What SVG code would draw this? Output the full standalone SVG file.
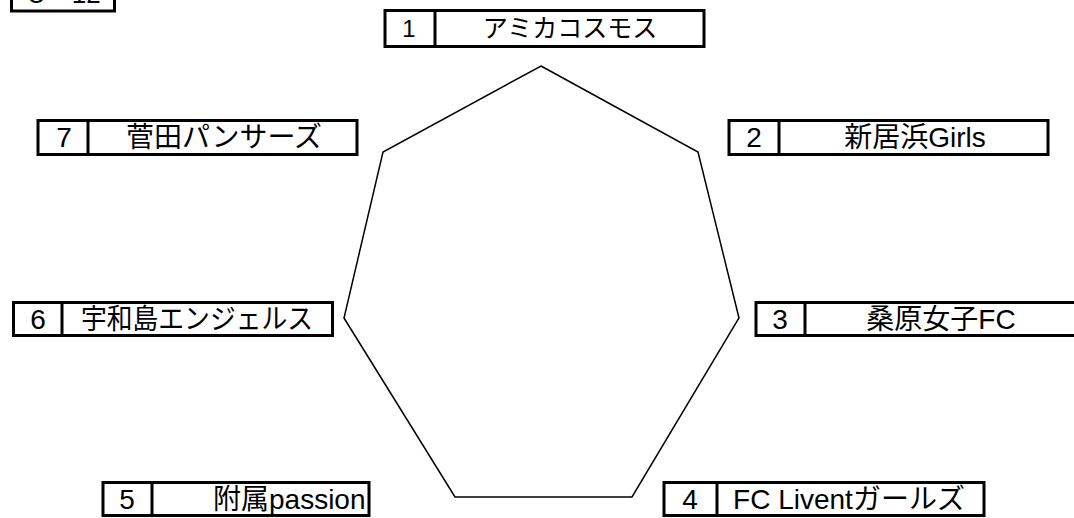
<svg xmlns="http://www.w3.org/2000/svg" width="1074" height="518" viewBox="0 0 1074 518">
<style>
.box{fill:#fff;stroke:#000;stroke-width:3}
.div{stroke:#000;stroke-width:3}
.t{font-family:"Liberation Sans","Noto Sans CJK JP",sans-serif;font-size:28px;fill:#000;text-anchor:middle}
.s{font-size:24px}
.hept{fill:none;stroke:#000;stroke-width:1.5}
</style>
<rect width="1074" height="518" fill="#fff"/>
<g id="title">
<rect class="box" x="11.5" y="-10" width="103" height="21"/>
<text class="t s" x="27" y="3" style="text-anchor:start;font-size:26px">U－12</text>
</g>
<g id="connectors">
<polygon class="hept" points="541,66 698,152 739,318 632,497 455,497 344,318 383,152"/>
</g>
<g id="node1">
<rect class="box" x="385" y="10.5" width="319" height="36"/>
<line class="div" x1="435" y1="10.5" x2="435" y2="46.5"/>
<text class="t s" x="409" y="37">1</text>
<text class="t s" x="570" y="37" style="font-size:25px">アミカコスモス</text>
</g>
<g id="node2">
<rect class="box" x="729" y="120.5" width="319" height="34"/>
<line class="div" x1="779" y1="120.5" x2="779" y2="154.5"/>
<text class="t" x="754" y="147">2</text>
<text class="t" x="915" y="147">新居浜Girls</text>
</g>
<g id="node3">
<rect class="box" x="756" y="302.5" width="320" height="33"/>
<line class="div" x1="805" y1="302.5" x2="805" y2="335.5"/>
<text class="t" x="780" y="329">3</text>
<text class="t" x="941" y="329">桑原女子FC</text>
</g>
<g id="node4">
<rect class="box" x="664" y="482.5" width="320" height="33"/>
<line class="div" x1="717" y1="482.5" x2="717" y2="515.5"/>
<text class="t" x="690" y="509">4</text>
<text class="t" x="849" y="509">FC Liventガールズ</text>
</g>
<g id="node5">
<rect class="box" x="103" y="482.5" width="266" height="33"/>
<line class="div" x1="152" y1="482.5" x2="152" y2="515.5"/>
<text class="t" x="127" y="509">5</text>
<text class="t" x="213" y="509" style="text-anchor:start">附属passion</text>
</g>
<g id="node6">
<rect class="box" x="13.5" y="302.5" width="319" height="33"/>
<line class="div" x1="62" y1="302.5" x2="62" y2="335.5"/>
<text class="t" x="38" y="329">6</text>
<text class="t" x="197" y="329" textLength="232" lengthAdjust="spacingAndGlyphs">宇和島エンジェルス</text>
</g>
<g id="node7">
<rect class="box" x="38" y="120.5" width="319" height="34"/>
<line class="div" x1="88" y1="120.5" x2="88" y2="154.5"/>
<text class="t" x="64" y="147">7</text>
<text class="t" x="224" y="147">菅田パンサーズ</text>
</g>
</svg>
